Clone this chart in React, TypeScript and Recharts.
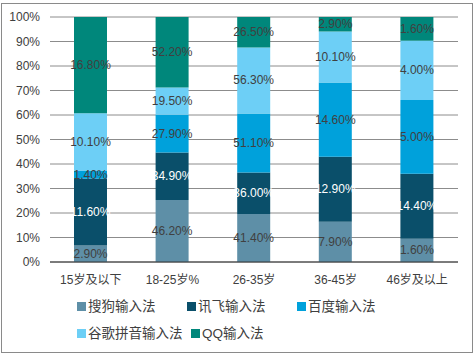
import { Bar, BarChart, CartesianGrid, LabelList, XAxis, YAxis } from "recharts";

// 年龄段
const categories = ["15岁及以下", "18-25岁%", "26-35岁", "36-45岁", "46岁及以上"];

// 各输入法在每个年龄段的占比（按图中柱高估读）
const sogou = [6.7, 25.3, 19.6, 16.4, 9.5];
const xunfei = [27.2, 19.3, 16.9, 26.5, 26.5];
const baidu = [3.4, 15.4, 24.1, 30.2, 30.1];
const google = [23.4, 11.1, 26.9, 20.8, 24.1];
const qq = [39.2, 28.7, 12.4, 5.9, 9.7];

// 柱上显示的数据标签
const sogouLabels = ["2.90%", "46.20%", "41.40%", "7.90%", "1.60%"];
const xunfeiLabels = ["11.60%", "34.90%", "36.00%", "12.90%", "14.40%"];
const baiduLabels = ["1.40%", "27.90%", "51.10%", "14.60%", "5.00%"];
const googleLabels = ["10.10%", "19.50%", "56.30%", "10.10%", "4.00%"];
const qqLabels = ["16.80%", "52.20%", "26.50%", "2.90%", "1.60%"];

const yTicks = [0, 0.1, 0.2, 0.3, 0.4, 0.5, 0.6, 0.7, 0.8, 0.9, 1];

const series = [
  { key: "sogou", nome: "搜狗输入法", cor: "#5e8fa7", texto: "#404040" },
  { key: "xunfei", nome: "讯飞输入法", cor: "#0a4f6a", texto: "#ffffff" },
  { key: "baidu", nome: "百度输入法", cor: "#00a1db", texto: "#404040" },
  { key: "google", nome: "谷歌拼音输入法", cor: "#6dcff6", texto: "#404040" },
  { key: "qq", nome: "QQ输入法", cor: "#00877b", texto: "#404040" },
];

const FONT = "'Liberation Sans', Arial, 'Noto Sans CJK SC', sans-serif";

function montarDados() {
  return categories.map((cat, i) => ({
    cat,
    sogou: sogou[i],
    xunfei: xunfei[i],
    baidu: baidu[i],
    google: google[i],
    qq: qq[i],
    sogouLabel: sogouLabels[i],
    xunfeiLabel: xunfeiLabels[i],
    baiduLabel: baiduLabels[i],
    googleLabel: googleLabels[i],
    qqLabel: qqLabels[i],
  }));
}

function rotulo(cor: string) {
  return (props: any) => {
    const { x, y, width, height, value } = props;
    return (
      <text
        x={Number(x) + Number(width) / 2}
        y={Number(y) + Number(height) / 2}
        textAnchor="middle"
        dominantBaseline="central"
        fill={cor}
        fontSize={12}
        fontFamily={FONT}
      >
        {value}
      </text>
    );
  };
}

// posição das entradas da legenda (duas linhas)
const legendaPos = [
  { left: 77, top: 298 },
  { left: 187, top: 298 },
  { left: 297, top: 298 },
  { left: 77, top: 325 },
  { left: 191, top: 325 },
];

export default function App() {
  const dados = montarDados();

  return (
    <div style={{ position: "absolute", left: 0, top: 0, width: 476, height: 355, background: "#fff" }}>
      <div
        style={{
          position: "absolute",
          left: 1,
          top: 3,
          width: 470,
          height: 348,
          border: "1px solid #8a8a8a",
        }}
      />
      <BarChart
        width={476}
        height={355}
        data={dados}
        stackOffset="expand"
        margin={{ top: 17, right: 18, left: 0, bottom: 63 }}
        style={{ position: "absolute", left: 0, top: 0 }}
      >
        <CartesianGrid vertical={false} stroke="#8c8c8c" />
        <XAxis
          dataKey="cat"
          tickLine={false}
          axisLine={{ stroke: "#333333" }}
          tickMargin={7}
          interval={0}
          tick={{ fill: "#404040", fontSize: 12, fontFamily: FONT }}
        />
        <YAxis
          width={50}
          domain={[0, 1]}
          ticks={yTicks}
          tickFormatter={(v: number) => `${Math.round(v * 100)}%`}
          tickLine={false}
          axisLine={false}
          tickMargin={4}
          tick={{ fill: "#404040", fontSize: 12, fontFamily: FONT }}
        />
        {series.map((s) => (
          <Bar key={s.key} dataKey={s.key} stackId="a" fill={s.cor} barSize={33} isAnimationActive={false}>
            <LabelList dataKey={`${s.key}Label`} content={rotulo(s.texto)} />
          </Bar>
        ))}
      </BarChart>
      {series.map((s, i) => (
        <div
          key={s.key}
          style={{
            position: "absolute",
            left: legendaPos[i].left,
            top: legendaPos[i].top,
            display: "flex",
            alignItems: "center",
            fontFamily: FONT,
            fontSize: 13.5,
            color: "#404040",
            lineHeight: "17px",
            whiteSpace: "nowrap",
          }}
        >
          <span style={{ width: 9, height: 9, background: s.cor, marginRight: 2 }} />
          {s.nome}
        </div>
      ))}
    </div>
  );
}
